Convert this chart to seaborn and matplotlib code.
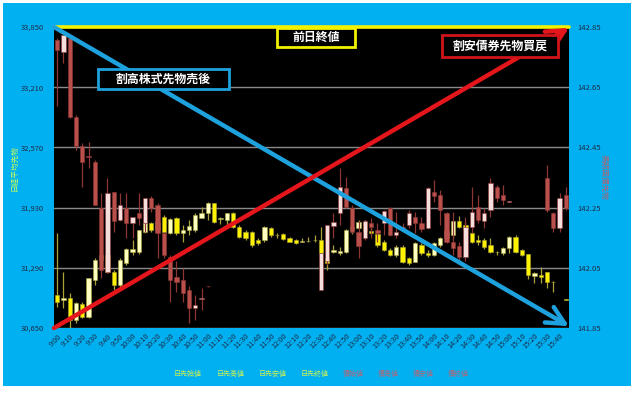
import numpy as np
import matplotlib
matplotlib.use("Agg")
import matplotlib.pyplot as plt
import seaborn as sns
from matplotlib.patches import Rectangle

nan = np.nan

times = ["9:00","9:05","9:10","9:15","9:20","9:25","9:30","9:35","9:40","9:45",
         "9:50","9:55","10:00","10:05","10:10","10:15","10:20","10:25","10:30","10:35",
         "10:40","10:45","10:50","10:55","11:00","11:05","11:10","11:15","11:20","11:25",
         "11:30","11:35","11:40","11:45","11:50","11:55","12:00","12:05","12:10","12:15",
         "12:20","12:25","12:30","12:35","12:40","12:45","12:50","12:55","13:00","13:05",
         "13:10","13:15","13:20","13:25","13:30","13:35","13:40","13:45","13:50","13:55",
         "14:00","14:05","14:10","14:15","14:20","14:25","14:30","14:35","14:40","14:45",
         "14:50","14:55","15:00","15:05","15:10","15:15","15:20","15:25","15:30","15:35",
         "15:40","15:45"]
tick_labels = times[::2]

nk_ticks = [30650, 31290, 31930, 32570, 33210, 33850]
nk_tick_labels = ["30,650", "31,290", "31,930", "32,570", "33,210", "33,850"]
bd_ticks = [141.85, 142.05, 142.25, 142.45, 142.65, 142.85]
bd_tick_labels = ["141.85", "142.05", "142.25", "142.45", "142.65", "142.85"]
prev_close = 33850

# Nikkei futures (left axis)
nk_open = [31001,30948,30966,30735,30902,30771,31161,31373,31426,31249,
           31108,31338,31462,31462,31674,31770,31692,31827,31664,31823,
           31657,31692,31692,31823,31869,31975,31809,31798,31869,31727,
           31674,31674,31586,31586,31710,31642,31646,31603,31586,31564,
           31571,31582,31586,31391,31462,31451,31462,31692,31717,31781,
           31682,31646,31568,31479,31426,31515,31391,31356,31533,31451,
           31426,31533,31603,31639,31788,31745,31657,31586,31586,31533,
           31462,31444,31497,31621,31479,31433,31207,31214,31242,31143,
           nan,30950]
nk_high = [31657,31249,31019,30930,30930,31178,31391,31462,31444,31267,
           31391,31497,31586,31692,31781,31781,31798,31851,31823,31834,
           31745,31798,31869,31940,31993,31983,31834,31876,31887,31745,
           31692,31681,31603,31735,31727,31657,31657,31621,31596,31603,
           31621,31639,31727,31426,31533,31515,31703,31745,31798,31798,
           31727,31674,31586,31497,31533,31533,31409,31568,31550,31479,
           31568,31621,31700,31798,31844,31781,31674,31639,31603,31603,
           31469,31515,31632,31639,31490,31440,31242,31302,31249,31150,
           nan,30955]
nk_low = [30877,30859,30647,30700,30753,30753,31107,31338,31231,31054,
          31090,31320,31426,31437,31657,31674,31674,31657,31646,31639,
          31568,31639,31674,31816,31798,31763,31752,31745,31710,31603,
          31586,31515,31533,31568,31621,31603,31586,31561,31540,31561,
          31561,31568,31426,31267,31444,31426,31444,31650,31703,31657,
          31639,31515,31469,31419,31409,31338,31320,31348,31426,31409,
          31419,31515,31590,31603,31710,31674,31550,31533,31490,31444,
          31426,31426,31444,31444,31419,31171,31125,31125,31072,31037,
          nan,30945]
nk_close = [30923,30973,30735,30913,30771,31178,31373,31426,31249,31108,
            31373,31487,31490,31692,31770,31692,31781,31674,31805,31657,
            31692,31735,31851,31869,31975,31781,31823,31869,31727,31621,
            31603,31533,31550,31727,31639,31635,31596,31568,31550,31571,
            31578,31589,31444,31338,31479,31469,31692,31720,31781,31682,
            31657,31533,31479,31426,31515,31356,31338,31550,31444,31426,
            31550,31603,31680,31788,31727,31703,31568,31568,31515,31462,
            31455,31504,31621,31462,31426,31214,31231,31196,31136,31136,
            nan,30948]

# JGB futures (right axis)
bd_open = [142.807,142.768,142.813,142.552,142.453,142.420,142.403,142.248,142.037,142.303,
           142.209,142.248,142.198,142.231,142.198,142.281,142.259,142.165,142.087,142.021,
           142.010,141.977,141.916,141.947,141.988,
           nan,nan,nan,nan,nan,nan,nan,nan,nan,nan,nan,nan,nan,nan,nan,nan,nan,
           141.977,142.071,142.190,142.231,142.314,142.250,142.170,142.148,142.198,142.176,
           142.198,142.248,142.159,142.187,142.192,142.220,142.198,142.181,142.303,142.292,
           142.231,142.137,142.121,142.087,142.187,142.253,142.204,142.242,142.320,142.292,
           142.270,
           nan,nan,nan,nan,nan,
           142.348,142.231,142.181,142.292]
bd_high = [142.813,142.824,142.813,142.558,142.464,142.469,142.409,142.298,142.348,142.303,
           142.298,142.298,142.220,142.298,142.281,142.287,142.264,142.170,142.093,142.071,
           142.049,141.988,141.960,141.982,141.990,
           nan,nan,nan,nan,nan,nan,nan,nan,nan,nan,nan,nan,nan,nan,nan,nan,nan,
           142.098,142.192,142.231,142.381,142.353,142.259,142.204,142.209,142.215,142.198,
           142.242,142.253,142.237,142.198,142.242,142.237,142.220,142.320,142.342,142.309,
           142.237,142.237,142.137,142.220,142.320,142.292,142.248,142.350,142.325,142.325,
           142.272,
           nan,nan,nan,nan,nan,
           142.392,142.237,142.298,142.320]
bd_low = [142.586,142.730,142.547,142.442,142.320,142.381,142.259,142.015,142.032,142.170,
          142.204,142.148,142.148,142.192,142.170,142.237,142.082,142.082,141.938,141.971,
          141.938,141.866,141.877,141.910,141.986,
          nan,nan,nan,nan,nan,nan,nan,nan,nan,nan,nan,nan,nan,nan,nan,nan,nan,
          141.977,142.060,142.148,142.192,142.248,142.165,142.082,142.143,142.148,142.137,
          142.159,142.154,142.148,142.176,142.181,142.165,142.170,142.179,142.270,142.192,
          142.132,142.093,142.071,142.071,142.165,142.198,142.181,142.220,142.270,142.259,
          142.268,
          nan,nan,nan,nan,nan,
          142.237,142.170,142.170,142.242]
bd_close = [142.774,142.824,142.552,142.453,142.403,142.417,142.259,142.043,142.298,142.204,
            142.259,142.198,142.220,142.217,142.281,142.250,142.165,142.093,142.010,142.004,
            141.966,141.916,141.927,141.951,141.988,
            nan,nan,nan,nan,nan,nan,nan,nan,nan,nan,nan,nan,nan,nan,nan,nan,nan,
            142.098,142.192,142.201,142.320,142.253,142.170,142.121,142.204,142.187,142.165,
            142.239,142.159,142.170,142.179,142.231,142.198,142.179,142.314,142.287,142.242,
            142.137,142.117,142.087,142.187,142.237,142.209,142.231,142.331,142.281,142.276,
            142.270,
            nan,nan,nan,nan,nan,
            142.242,142.181,142.281,142.248]

legend_nk = ["日先始値", "日先高値", "日先安値", "日先終値"]
legend_bd = ["債始値", "債高値", "債安値", "債終値"]

sns.set_theme(style="white")
plt.rcParams['font.family'] = ['Noto Sans CJK JP', 'DejaVu Sans']
plt.rcParams['axes.unicode_minus'] = False

fig = plt.figure(figsize=(6.4, 4.13), dpi=100)
fig.patch.set_facecolor("white")
fig.patches.append(Rectangle((3/640, 27/413), 628/640, 383/413, transform=fig.transFigure,
                             facecolor="#00B0F0", edgecolor="none", zorder=-10))

ax = fig.add_axes([54/640, 1-328/413, 515/640, 301/413])
ax.set_facecolor("black")
ax2 = ax.twinx()


def candles(a, o, h, l, c, up_col, dn_col, wick_col, minh):
    o = np.asarray(o, float); h = np.asarray(h, float)
    l = np.asarray(l, float); c = np.asarray(c, float)
    x = np.arange(len(o))
    m = ~np.isnan(o)
    a.vlines(x[m], l[m], h[m], color=wick_col, lw=0.9, zorder=2)
    bottom = np.minimum(o, c)[m]
    height = np.maximum(np.abs(c - o), minh)[m]
    cols = np.where(c[m] >= o[m], up_col, dn_col)
    a.bar(x[m], height, bottom=bottom, width=0.68, color=cols,
          edgecolor=wick_col, linewidth=0.4, zorder=3)


candles(ax, nk_open, nk_high, nk_low, nk_close, "#FFFFC2", "#FFF200", "#A8A238", 8)
candles(ax2, bd_open, bd_high, bd_low, bd_close, "#F6DEDC", "#B9504C", "#8E3634", 0.0025)

ax.set_xlim(-0.5, len(times) - 0.5)
ax.set_ylim(nk_ticks[0], nk_ticks[-1])
ax2.set_ylim(bd_ticks[0], bd_ticks[-1])
ax.set_yticks(nk_ticks)
ax.set_yticklabels(nk_tick_labels)
ax2.set_yticks(bd_ticks)
ax2.set_yticklabels(bd_tick_labels)
ax.set_xticks(range(0, len(times), 2))
ax.set_xticklabels(tick_labels, rotation=45, ha="right", rotation_mode="anchor")
ax.set_xticks(range(len(times)), minor=True)

ax.yaxis.grid(True, color="#8A8A8A", lw=1.0, zorder=1)
ax.xaxis.grid(False)
ax2.grid(False)
ax.set_axisbelow(True)

lab_col = "#1F2D4A"
ax.tick_params(axis="y", length=0, pad=7, labelsize=5.5, labelcolor=lab_col)
ax2.tick_params(axis="y", length=0, pad=6, labelsize=5.5, labelcolor=lab_col)
ax.tick_params(axis="x", which="both", direction="in", length=2, width=0.6,
               color="#BBBBBB", pad=3, labelsize=5.3, labelcolor=lab_col)
for a in (ax, ax2):
    for s in a.spines.values():
        s.set_visible(False)

ax.axhline(prev_close, color="#F2F200", lw=2.6, zorder=6, clip_on=False)

ax2.annotate("", xy=(1.0, 0.006), xytext=(0.0, 1.0), xycoords="axes fraction",
             arrowprops=dict(arrowstyle="->,head_length=0.8,head_width=0.4",
                             color="#1DA2DE", lw=3.2, mutation_scale=16,
                             shrinkA=0, shrinkB=0),
             annotation_clip=False, zorder=7)
ax2.annotate("", xy=(1.0, 0.997), xytext=(0.0, 0.0), xycoords="axes fraction",
             arrowprops=dict(arrowstyle="->,head_length=0.8,head_width=0.4",
                             color="#E4161B", lw=3.2, mutation_scale=16,
                             shrinkA=0, shrinkB=0),
             annotation_clip=False, zorder=7)


def box(a, x0, x1, y0, y1, edge, text):
    a.add_patch(Rectangle((x0, y0), x1 - x0, y1 - y0, transform=a.transAxes,
                          facecolor="black", edgecolor=edge, lw=2.0,
                          zorder=10, clip_on=False))
    a.text((x0 + x1) / 2, (y0 + y1) / 2, text, transform=a.transAxes,
           ha="center", va="center", color="white", fontsize=8.6,
           fontweight="bold", zorder=11)


box(ax2, 44/515, 175/515, 1-62/301, 1-42/301, "#1DA2DE", "割高株式先物売後")
box(ax2, 223/515, 301/515, 1-20/301, 1-1/301, "#F2F200", "前日終値")
box(ax2, 388/515, 504/515, 1-30/301, 1-8/301, "#D0141A", "割安債券先物買戻")

fig.text(14/640, 1-168/413, "日経平均先物", rotation=90, color="#CCFF55",
         fontsize=5.5, ha="center", va="center")
fig.text(604/640, 1-177/413, "長期国債先物", rotation=270, color="#B8606C",
         fontsize=5.5, ha="center", va="center")

ly = 1 - 374/413
for xc, t in zip([188, 230.5, 273, 314.5], legend_nk):
    fig.text(xc/640, ly, t, color="#CCF055", fontsize=5, ha="center", va="center")
for xc, t in zip([353, 388, 423, 458], legend_bd):
    fig.text(xc/640, ly, t, color="#B0687A", fontsize=5, ha="center", va="center")

fig.savefig("out.png", dpi=100, facecolor="white")
